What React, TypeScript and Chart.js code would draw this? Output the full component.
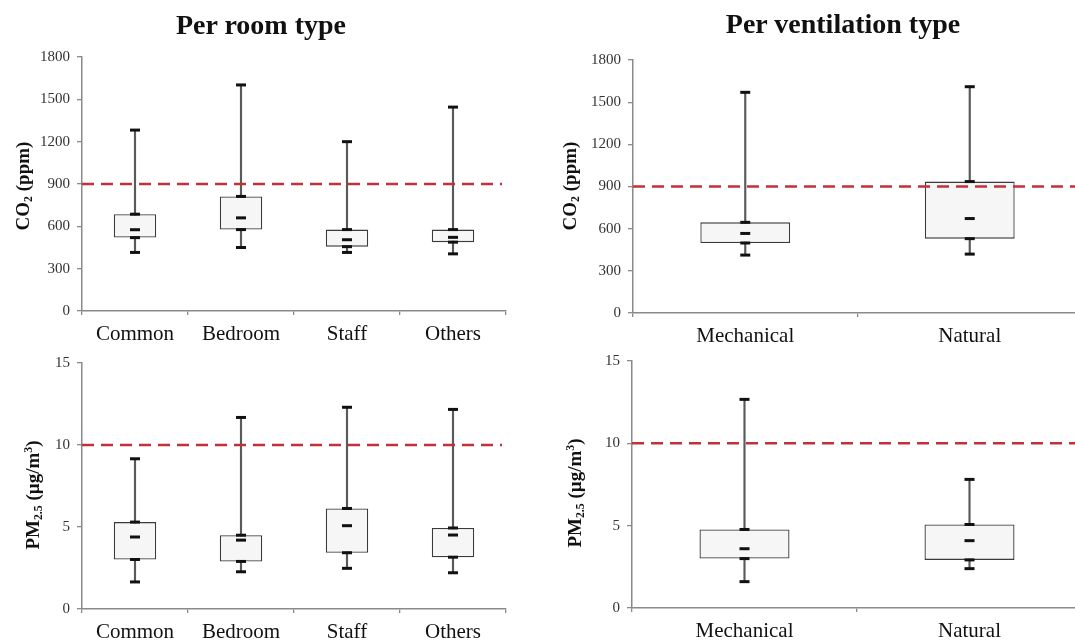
import React, { useEffect, useRef } from 'react';
import { Chart, registerables } from 'chart.js';

Chart.register(...registerables);

const roomTypes = ['Common', 'Bedroom', 'Staff', 'Others'];
const ventTypes = ['Mechanical', 'Natural'];

// CO2 (ppm) per room type
const co2RoomMin = [415, 450, 415, 405];
const co2RoomQ1 = [520, 577, 456, 488];
const co2RoomMedian = [576, 660, 505, 522];
const co2RoomQ3 = [686, 812, 577, 577];
const co2RoomMax = [1282, 1602, 1200, 1445];

// CO2 (ppm) per ventilation type
const co2VentMin = [412, 419];
const co2VentQ1 = [498, 529];
const co2VentMedian = [566, 672];
const co2VentQ3 = [645, 935];
const co2VentMax = [1570, 1610];

// PM2.5 per room type
const pmRoomMin = [1.65, 2.27, 2.48, 2.21];
const pmRoomQ1 = [3.02, 2.9, 3.43, 3.16];
const pmRoomMedian = [4.39, 4.2, 5.08, 4.51];
const pmRoomQ3 = [5.3, 4.5, 6.13, 4.94];
const pmRoomMax = [9.16, 11.68, 12.3, 12.17];

// PM2.5 per ventilation type
const pmVentMin = [1.6, 2.39];
const pmVentQ1 = [3.0, 2.92];
const pmVentMedian = [3.6, 4.09];
const pmVentQ3 = [4.77, 5.07];
const pmVentMax = [12.67, 7.81];

const co2Limit = 900;
const pmLimit = 10;
const co2AxisMax = 1800;
const co2AxisStep = 300;
const pmAxisMax = 15;
const pmAxisStep = 5;

const SERIF = "'Liberation Serif', 'Times New Roman', 'DejaVu Serif', serif";

type PanelProps = {
  labels: string[];
  min: number[];
  q1: number[];
  median: number[];
  q3: number[];
  max: number[];
  limit: number;
  yMax: number;
  yStep: number;
  left: number;
  top: number;
  width: number;
  height: number;
  yWidth: number;
  xHeight: number;
  padTop: number;
  padRight: number;
};

function Panel(p: PanelProps) {
  const ref = useRef<HTMLCanvasElement | null>(null);
  useEffect(() => {
    if (!ref.current) return;
    const limitPlugin = {
      id: 'limitLine',
      afterDatasetsDraw(chart: any) {
        const { ctx, chartArea, scales } = chart;
        const y = scales.y.getPixelForValue(p.limit);
        ctx.save();
        ctx.strokeStyle = '#c4303a';
        ctx.lineWidth = 2.5;
        ctx.setLineDash([12, 7]);
        ctx.beginPath();
        ctx.moveTo(chartArea.left, y);
        ctx.lineTo(chartArea.right - 4, y);
        ctx.stroke();
        ctx.restore();
      },
    };
    const cap = (data: number[]) => ({
      type: 'line' as const,
      data,
      showLine: false,
      pointStyle: 'line',
      pointRadius: 5,
      pointHoverRadius: 5,
      pointBorderWidth: 3,
      pointBorderColor: '#111',
      pointBackgroundColor: '#111',
      order: 1,
    });
    const chart = new Chart(ref.current, {
      type: 'bar',
      data: {
        labels: p.labels,
        datasets: [
          {
            type: 'bar',
            data: p.min.map((v, i) => [v, p.max[i]]),
            backgroundColor: '#5a5a5a',
            borderWidth: 0,
            barThickness: 1.5,
            grouped: false,
            order: 3,
          } as any,
          {
            type: 'bar',
            data: p.q1.map((v, i) => [v, p.q3[i]]),
            backgroundColor: '#f6f6f6',
            borderColor: '#3a3a3a',
            borderWidth: 1.3,
            borderSkipped: false,
            barPercentage: 0.4,
            categoryPercentage: 1,
            grouped: false,
            order: 2,
          } as any,
          cap(p.min),
          cap(p.q1),
          cap(p.median),
          cap(p.q3),
          cap(p.max),
        ],
      },
      options: {
        animation: false,
        responsive: false,
        maintainAspectRatio: false,
        layout: { padding: { top: p.padTop, right: p.padRight, left: 0, bottom: 0 } },
        plugins: { legend: { display: false }, tooltip: { enabled: false }, title: { display: false } },
        scales: {
          x: {
            offset: true,
            grid: { offset: true, drawOnChartArea: false, drawTicks: true, tickLength: 4, color: '#8a8a8a', lineWidth: 1.3 },
            border: { display: true, color: '#8a8a8a', width: 1.5 },
            ticks: { color: '#111', font: { family: SERIF, size: 21 }, padding: 7, maxRotation: 0 },
            afterFit: (scale: any) => { scale.height = p.xHeight; },
          },
          y: {
            min: 0,
            max: p.yMax,
            grid: { drawOnChartArea: false, drawTicks: true, tickLength: 5, color: '#8a8a8a', lineWidth: 1.3 },
            border: { display: true, color: '#8a8a8a', width: 1.5 },
            ticks: {
              stepSize: p.yStep,
              color: '#333',
              font: { family: SERIF, size: 15 },
              padding: 7,
              callback: (v: any) => String(v),
            },
            afterFit: (scale: any) => { scale.width = p.yWidth; },
          },
        },
      },
      plugins: [limitPlugin],
    } as any);
    return () => chart.destroy();
  }, []);
  return (
    <canvas
      ref={ref}
      width={p.width}
      height={p.height}
      style={{ position: 'absolute', left: p.left, top: p.top, width: p.width, height: p.height }}
    />
  );
}

const titleStyle = (cx: number, cy: number): React.CSSProperties => ({
  position: 'absolute',
  left: cx - 200,
  top: cy - 16,
  width: 400,
  height: 32,
  lineHeight: '32px',
  textAlign: 'center',
  fontFamily: SERIF,
  fontWeight: 'bold',
  fontSize: 28,
  color: '#111',
});

const axisTitleStyle = (cx: number, cy: number): React.CSSProperties => ({
  position: 'absolute',
  left: cx - 100,
  top: cy - 12,
  width: 200,
  height: 24,
  lineHeight: '24px',
  textAlign: 'center',
  fontFamily: SERIF,
  fontWeight: 'bold',
  fontSize: 19,
  color: '#111',
  transform: 'rotate(-90deg)',
  transformOrigin: '50% 50%',
  whiteSpace: 'nowrap',
});

const subStyle: React.CSSProperties = { fontSize: '0.62em', verticalAlign: '-0.25em', lineHeight: 0 };
const supStyle: React.CSSProperties = { fontSize: '0.62em', verticalAlign: '0.6em', lineHeight: 0 };

export default function App() {
  return (
    <div style={{ position: 'absolute', left: 0, top: 0, width: 1075, height: 641, overflow: 'hidden', background: '#fff' }}>
      <Panel
        labels={roomTypes} min={co2RoomMin} q1={co2RoomQ1} median={co2RoomMedian} q3={co2RoomQ3} max={co2RoomMax}
        limit={co2Limit} yMax={co2AxisMax} yStep={co2AxisStep}
        left={0} top={0} width={540} height={345} yWidth={82} xHeight={34} padTop={57} padRight={34}
      />
      <Panel
        labels={ventTypes} min={co2VentMin} q1={co2VentQ1} median={co2VentMedian} q3={co2VentQ3} max={co2VentMax}
        limit={co2Limit} yMax={co2AxisMax} yStep={co2AxisStep}
        left={545} top={0} width={545} height={345} yWidth={88} xHeight={32} padTop={60} padRight={6}
      />
      <Panel
        labels={roomTypes} min={pmRoomMin} q1={pmRoomQ1} median={pmRoomMedian} q3={pmRoomQ3} max={pmRoomMax}
        limit={pmLimit} yMax={pmAxisMax} yStep={pmAxisStep}
        left={0} top={345} width={540} height={296} yWidth={82} xHeight={32} padTop={18} padRight={34}
      />
      <Panel
        labels={ventTypes} min={pmVentMin} q1={pmVentQ1} median={pmVentMedian} q3={pmVentQ3} max={pmVentMax}
        limit={pmLimit} yMax={pmAxisMax} yStep={pmAxisStep}
        left={545} top={345} width={545} height={296} yWidth={87} xHeight={33} padTop={16} padRight={6}
      />
      <div style={titleStyle(261, 25)}>Per room type</div>
      <div style={titleStyle(843, 24)}>Per ventilation type</div>
      <div style={axisTitleStyle(23, 186)}>CO<span style={subStyle}>2</span> (ppm)</div>
      <div style={axisTitleStyle(570, 186)}>CO<span style={subStyle}>2</span> (ppm)</div>
      <div style={axisTitleStyle(33, 495)}>PM<span style={subStyle}>2.5</span> (µg/m<span style={supStyle}>3</span>)</div>
      <div style={axisTitleStyle(575, 493)}>PM<span style={subStyle}>2.5</span> (µg/m<span style={supStyle}>3</span>)</div>
    </div>
  );
}
